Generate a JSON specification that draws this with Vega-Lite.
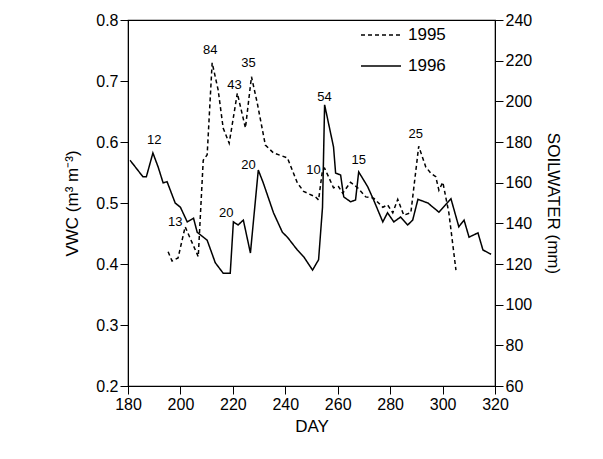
{
  "$schema": "https://vega.github.io/schema/vega-lite/v6.json",
  "width": 367,
  "height": 366,
  "autosize": "none",
  "padding": {"left": 128, "top": 20, "right": 108, "bottom": 73},
  "config": {
    "font": "Liberation Sans",
    "view": {"stroke": "black", "strokeWidth": 1.2},
    "axis": {"labelFontSize": 16, "titleFontSize": 17, "titleFontWeight": "normal", "grid": false, "domainColor": "black", "tickColor": "black", "labelColor": "black", "titleColor": "black", "tickSize": 8, "labelFlush": false}
  },
  "layer": [
    {
      "layer": [
        {
          "data": {"values": [
            {"year": "1996", "day": 180.8, "vwc": 0.570}, {"year": "1996", "day": 185.7, "vwc": 0.543}, {"year": "1996", "day": 187, "vwc": 0.543},
            {"year": "1996", "day": 189.5, "vwc": 0.582}, {"year": "1996", "day": 191.5, "vwc": 0.559}, {"year": "1996", "day": 193.4, "vwc": 0.533},
            {"year": "1996", "day": 194.9, "vwc": 0.535}, {"year": "1996", "day": 198, "vwc": 0.500}, {"year": "1996", "day": 200, "vwc": 0.493},
            {"year": "1996", "day": 202.6, "vwc": 0.469}, {"year": "1996", "day": 205, "vwc": 0.475}, {"year": "1996", "day": 206.4, "vwc": 0.452},
            {"year": "1996", "day": 210.2, "vwc": 0.439}, {"year": "1996", "day": 213.3, "vwc": 0.402}, {"year": "1996", "day": 216.3, "vwc": 0.385},
            {"year": "1996", "day": 219, "vwc": 0.385}, {"year": "1996", "day": 220.2, "vwc": 0.469}, {"year": "1996", "day": 222, "vwc": 0.464},
            {"year": "1996", "day": 224, "vwc": 0.472}, {"year": "1996", "day": 226.7, "vwc": 0.418}, {"year": "1996", "day": 229.7, "vwc": 0.554},
            {"year": "1996", "day": 231.6, "vwc": 0.533}, {"year": "1996", "day": 235.5, "vwc": 0.484}, {"year": "1996", "day": 238.9, "vwc": 0.452},
            {"year": "1996", "day": 240.8, "vwc": 0.444}, {"year": "1996", "day": 244.6, "vwc": 0.423}, {"year": "1996", "day": 247, "vwc": 0.412},
            {"year": "1996", "day": 250.4, "vwc": 0.390}, {"year": "1996", "day": 252.7, "vwc": 0.407}, {"year": "1996", "day": 254.2, "vwc": 0.493},
            {"year": "1996", "day": 255, "vwc": 0.661}, {"year": "1996", "day": 258.4, "vwc": 0.592}, {"year": "1996", "day": 259.2, "vwc": 0.549},
            {"year": "1996", "day": 261.1, "vwc": 0.546}, {"year": "1996", "day": 262.3, "vwc": 0.510}, {"year": "1996", "day": 264.9, "vwc": 0.502},
            {"year": "1996", "day": 266.8, "vwc": 0.505}, {"year": "1996", "day": 268, "vwc": 0.551}, {"year": "1996", "day": 271.4, "vwc": 0.527},
            {"year": "1996", "day": 273.7, "vwc": 0.505}, {"year": "1996", "day": 277.2, "vwc": 0.469}, {"year": "1996", "day": 279, "vwc": 0.484},
            {"year": "1996", "day": 281.4, "vwc": 0.469}, {"year": "1996", "day": 284, "vwc": 0.477}, {"year": "1996", "day": 286.7, "vwc": 0.464},
            {"year": "1996", "day": 288.6, "vwc": 0.472}, {"year": "1996", "day": 290.6, "vwc": 0.506}, {"year": "1996", "day": 294.4, "vwc": 0.500},
            {"year": "1996", "day": 298.6, "vwc": 0.485}, {"year": "1996", "day": 303.2, "vwc": 0.507}, {"year": "1996", "day": 306.2, "vwc": 0.461},
            {"year": "1996", "day": 308.2, "vwc": 0.472}, {"year": "1996", "day": 310.1, "vwc": 0.444}, {"year": "1996", "day": 313.5, "vwc": 0.451},
            {"year": "1996", "day": 315.4, "vwc": 0.423}, {"year": "1996", "day": 318.5, "vwc": 0.416},
            {"year": "1995", "day": 195.3, "vwc": 0.420}, {"year": "1995", "day": 196.8, "vwc": 0.405}, {"year": "1995", "day": 199.1, "vwc": 0.410},
            {"year": "1995", "day": 201.8, "vwc": 0.461}, {"year": "1995", "day": 206.8, "vwc": 0.412}, {"year": "1995", "day": 208.7, "vwc": 0.570},
            {"year": "1995", "day": 210.2, "vwc": 0.579}, {"year": "1995", "day": 212.1, "vwc": 0.730}, {"year": "1995", "day": 214.4, "vwc": 0.685},
            {"year": "1995", "day": 216.3, "vwc": 0.623}, {"year": "1995", "day": 218.6, "vwc": 0.598}, {"year": "1995", "day": 221.7, "vwc": 0.680},
            {"year": "1995", "day": 224.8, "vwc": 0.623}, {"year": "1995", "day": 227.1, "vwc": 0.707}, {"year": "1995", "day": 229.3, "vwc": 0.664},
            {"year": "1995", "day": 232.4, "vwc": 0.595}, {"year": "1995", "day": 235.5, "vwc": 0.582}, {"year": "1995", "day": 240.8, "vwc": 0.574},
            {"year": "1995", "day": 244.6, "vwc": 0.533}, {"year": "1995", "day": 247, "vwc": 0.519}, {"year": "1995", "day": 251.5, "vwc": 0.510},
            {"year": "1995", "day": 252.7, "vwc": 0.505}, {"year": "1995", "day": 254.2, "vwc": 0.554}, {"year": "1995", "day": 255, "vwc": 0.557},
            {"year": "1995", "day": 256.5, "vwc": 0.543}, {"year": "1995", "day": 258.4, "vwc": 0.525}, {"year": "1995", "day": 260.3, "vwc": 0.527},
            {"year": "1995", "day": 261.9, "vwc": 0.516}, {"year": "1995", "day": 264.9, "vwc": 0.534}, {"year": "1995", "day": 267.6, "vwc": 0.525},
            {"year": "1995", "day": 270.7, "vwc": 0.510}, {"year": "1995", "day": 273.7, "vwc": 0.508}, {"year": "1995", "day": 277.2, "vwc": 0.493},
            {"year": "1995", "day": 279, "vwc": 0.497}, {"year": "1995", "day": 281, "vwc": 0.484}, {"year": "1995", "day": 282.9, "vwc": 0.506},
            {"year": "1995", "day": 285.2, "vwc": 0.480}, {"year": "1995", "day": 287.9, "vwc": 0.484}, {"year": "1995", "day": 290.9, "vwc": 0.593},
            {"year": "1995", "day": 293.6, "vwc": 0.559}, {"year": "1995", "day": 295.5, "vwc": 0.549}, {"year": "1995", "day": 297.4, "vwc": 0.543},
            {"year": "1995", "day": 298.6, "vwc": 0.521}, {"year": "1995", "day": 300.1, "vwc": 0.534}, {"year": "1995", "day": 302.4, "vwc": 0.484},
            {"year": "1995", "day": 305.1, "vwc": 0.390}
          ]},
          "mark": {"type": "line", "color": "black", "strokeWidth": 1.5},
          "encoding": {
            "x": {"field": "day", "type": "quantitative", "title": "DAY",
              "scale": {"domain": [180, 320], "nice": false, "zero": false},
              "axis": {"values": [180, 200, 220, 240, 260, 280, 300, 320], "titlePadding": 6}},
            "y": {"field": "vwc", "type": "quantitative", "title": "VWC (m³ m⁻³)",
              "scale": {"domain": [0.2, 0.8], "nice": false, "zero": false},
              "axis": {"values": [0.2, 0.3, 0.4, 0.5, 0.6, 0.7, 0.8], "format": ".1f", "titlePadding": 14}},
            "strokeDash": {"field": "year", "type": "nominal",
              "scale": {"domain": ["1995", "1996"], "range": [[4, 3], [1, 0]]},
              "legend": {"title": null, "orient": "none", "legendX": 232, "legendY": -6,
                "symbolType": "stroke", "symbolSize": 1600, "symbolStrokeColor": "black", "symbolStrokeWidth": 1.5,
                "labelFontSize": 17, "labelColor": "black", "labelOffset": 6, "rowPadding": 2}}
          }
        },
        {
          "data": {"values": [
            {"t": "12", "day": 190, "vwc": 0.603}, {"t": "13", "day": 198, "vwc": 0.469},
            {"t": "84", "day": 211.4, "vwc": 0.751}, {"t": "43", "day": 220.6, "vwc": 0.693},
            {"t": "35", "day": 226, "vwc": 0.729}, {"t": "20", "day": 217.5, "vwc": 0.484},
            {"t": "20", "day": 226, "vwc": 0.562}, {"t": "54", "day": 255, "vwc": 0.674},
            {"t": "10", "day": 250.8, "vwc": 0.554}, {"t": "15", "day": 268, "vwc": 0.570},
            {"t": "25", "day": 289.8, "vwc": 0.613}
          ]},
          "mark": {"type": "text", "fontSize": 13, "color": "black"},
          "encoding": {
            "x": {"field": "day", "type": "quantitative"},
            "y": {"field": "vwc", "type": "quantitative"},
            "text": {"field": "t"}
          }
        }
      ]
    },
    {
      "data": {"values": [{"sw": 60}, {"sw": 240}]},
      "mark": {"type": "text", "text": "", "opacity": 0},
      "encoding": {
        "y": {"field": "sw", "type": "quantitative", "title": "SOILWATER (mm)",
          "scale": {"domain": [60, 240], "nice": false, "zero": false},
          "axis": {"orient": "right", "values": [60, 80, 100, 120, 140, 160, 180, 200, 220, 240], "titleAngle": 90, "titlePadding": 12}}
      }
    }
  ],
  "resolve": {"scale": {"y": "independent"}}
}
